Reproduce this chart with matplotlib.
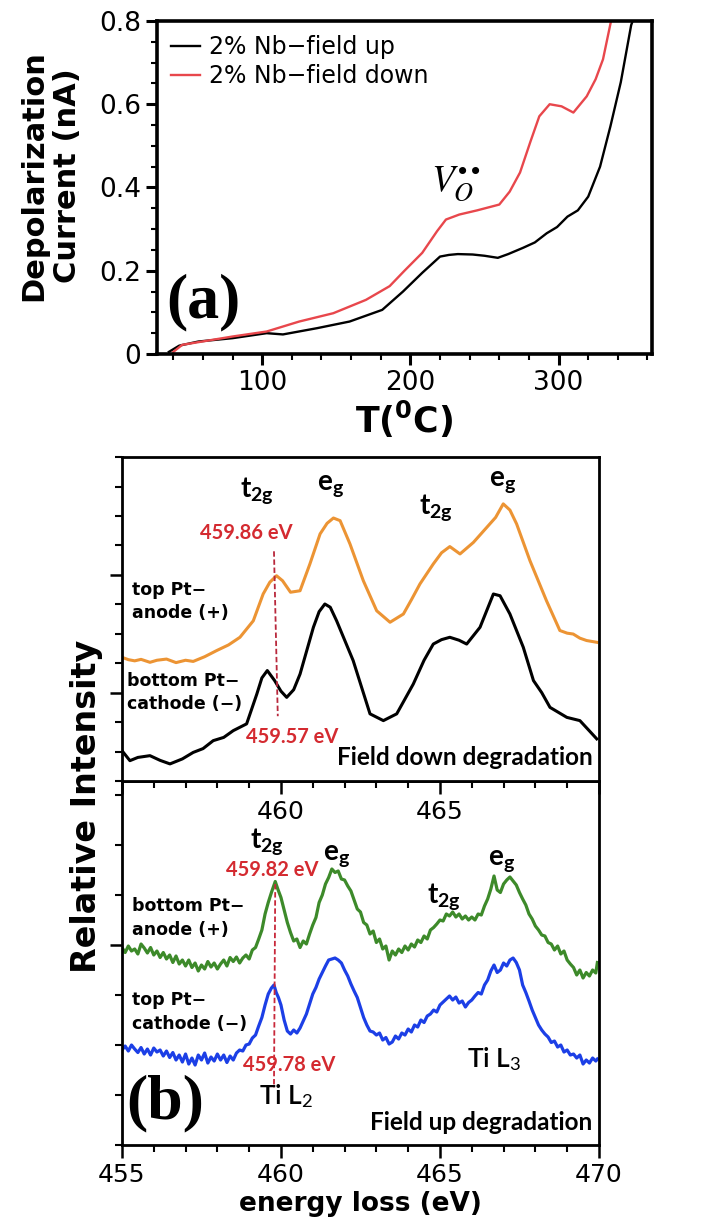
import matplotlib
matplotlib.use("Agg")
import matplotlib.pyplot as plt
from matplotlib.ticker import MultipleLocator, FixedLocator, NullFormatter, FuncFormatter

plt.rcParams["font.family"] = ["DejaVu Sans"]
plt.rcParams["mathtext.fontset"] = "custom"
plt.rcParams["mathtext.rm"] = "Lato"
plt.rcParams["mathtext.bf"] = "Lato:bold"
plt.rcParams["mathtext.it"] = "Lato:italic"

# ---------------- (a) thermally stimulated depolarization current ----------------
temp_field_up = [37, 44, 57, 80, 103, 114, 137, 159, 181, 195, 208, 220, 226, 232, 242,
                 250, 259, 266, 276, 284, 292, 299, 306, 313, 320, 328, 335, 342, 349, 352]
current_field_up = [0.005, 0.02, 0.03, 0.038, 0.05, 0.047, 0.062, 0.078, 0.106, 0.15,
                    0.195, 0.234, 0.238, 0.24, 0.239, 0.236, 0.231, 0.24, 0.255, 0.268,
                    0.29, 0.305, 0.33, 0.345, 0.378, 0.45, 0.547, 0.653, 0.79, 0.82]
temp_field_down = [40, 46, 80, 103, 125, 148, 170, 186, 196, 208, 218, 224, 233, 245,
                   260, 267, 274, 281, 287, 294, 302, 310, 319, 325, 330, 336]
current_field_down = [0.005, 0.022, 0.042, 0.054, 0.078, 0.098, 0.13, 0.163, 0.2, 0.243,
                      0.295, 0.323, 0.335, 0.345, 0.359, 0.39, 0.436, 0.51, 0.571, 0.60,
                      0.595, 0.58, 0.619, 0.66, 0.708, 0.81]
legend_labels = ["2% Nb\u2212field up", "2% Nb\u2212field down"]

# ---------------- (b) EELS Ti L2,3 edges ----------------
# field down degradation
energy_top_anode = [455.0, 455.2, 455.4, 455.6, 455.88, 456.1, 456.4, 456.7, 457.0, 457.24,
                    457.6, 457.98, 458.35, 458.71, 459.13, 459.44, 459.65, 459.86, 460.05,
                    460.3, 460.6, 460.91, 461.23, 461.45, 461.65, 461.86, 462.17, 462.59,
                    463.01, 463.43, 463.85, 464.1, 464.37, 464.79, 465.05, 465.31, 465.63,
                    466.05, 466.47, 466.75, 466.99, 467.2, 467.41, 467.83, 468.35, 468.77,
                    469.0, 469.19, 469.4, 469.61, 469.93]
intensity_top_anode = [1.20, 1.12, 1.08, 1.13, 1.03, 1.10, 1.14, 1.02, 1.1, 1.06,
                       1.22, 1.43, 1.62, 1.88, 2.44, 3.35, 3.75, 3.97, 3.80,
                       3.41, 3.46, 4.37, 5.39, 5.75, 5.93, 5.84, 5.05, 3.80,
                       2.78, 2.39, 2.67, 3.15, 3.69, 4.37, 4.75, 4.96, 4.71,
                       5.10, 5.61, 5.95, 6.41, 6.2, 5.73, 4.48, 3.12, 2.11,
                       2.02, 1.99, 1.85, 1.77, 1.71]
energy_bottom_cathode = [455.0, 455.25, 455.5, 455.88, 456.2, 456.51, 456.9, 457.24, 457.55,
                         457.87, 458.2, 458.5, 458.92, 459.24, 459.4, 459.57, 459.8, 460.0,
                         460.18, 460.4, 460.6, 461.02, 461.2, 461.38, 461.55, 461.75, 462.27,
                         462.8, 463.22, 463.64, 464.16, 464.5, 464.79, 465.05, 465.31, 465.6,
                         465.84, 466.26, 466.68, 466.89, 467.2, 467.62, 467.94, 468.2, 468.46,
                         468.99, 469.4, 469.7, 469.93]
intensity_bottom_cathode = [-1.97, -2.31, -2.2, -2.14, -2.3, -2.42, -2.25, -2.03, -1.9,
                            -1.63, -1.52, -1.29, -1.06, -0.05, 0.5, 0.75, 0.41, 0.05,
                            -0.16, 0.1, 0.63, 2.22, 2.75, 3.01, 2.9, 2.44, 1.09,
                            -0.72, -0.95, -0.72, 0.29, 1.1, 1.65, 1.8, 1.88, 1.78,
                            1.65, 2.22, 3.35, 3.29, 2.67, 1.54, 0.41, 0.0, -0.50,
                            -0.84, -0.95, -1.3, -1.57]

# field up degradation
energy_bottom_anode = [
    455.0, 455.1, 455.2, 455.3, 455.4, 455.5, 455.6, 455.7, 455.8, 455.9,
    456.0, 456.1, 456.2, 456.3, 456.4, 456.5, 456.6, 456.7, 456.8, 456.9,
    457.0, 457.1, 457.2, 457.3, 457.4, 457.5, 457.6, 457.7, 457.8, 457.9,
    458.0, 458.1, 458.2, 458.3, 458.4, 458.5, 458.6, 458.7, 458.8, 458.9,
    459.0, 459.1, 459.2, 459.3, 459.4, 459.5, 459.6, 459.7, 459.82, 459.9,
    460.0, 460.1, 460.2, 460.3, 460.4, 460.5, 460.6, 460.7, 460.8, 460.9,
    461.0, 461.1, 461.2, 461.3, 461.4, 461.5, 461.6, 461.7, 461.8, 461.9,
    462.0, 462.1, 462.2, 462.3, 462.4, 462.5, 462.6, 462.7, 462.8, 462.9,
    463.0, 463.1, 463.2, 463.3, 463.4, 463.5, 463.6, 463.7, 463.8, 463.9,
    464.0, 464.1, 464.2, 464.3, 464.4, 464.5, 464.6, 464.7, 464.8, 464.9,
    465.0, 465.1, 465.2, 465.3, 465.4, 465.5, 465.6, 465.7, 465.8, 465.9,
    466.0, 466.1, 466.2, 466.3, 466.4, 466.5, 466.6, 466.7, 466.8, 466.9,
    467.0, 467.1, 467.2, 467.3, 467.4, 467.5, 467.6, 467.7, 467.8, 467.9,
    468.0, 468.1, 468.2, 468.3, 468.4, 468.5, 468.6, 468.7, 468.8, 468.9,
    469.0, 469.1, 469.2, 469.3, 469.4, 469.5, 469.6, 469.7, 469.8, 469.9, 469.95]
intensity_bottom_anode = [
    -0.05, -0.15, -0.02, -0.12, -0.08, -0.18, 0.02, -0.06, -0.16, -0.05,
    -0.2, -0.12, -0.25, -0.15, -0.28, -0.2, -0.35, -0.22, -0.38, -0.3,
    -0.42, -0.3, -0.45, -0.36, -0.52, -0.4, -0.48, -0.33, -0.44, -0.36,
    -0.48, -0.38, -0.3, -0.42, -0.25, -0.33, -0.24, -0.36, -0.26, -0.2,
    -0.28, -0.1, -0.05, 0.12, 0.3, 0.62, 0.85, 1.05, 1.27, 1.12,
    0.95, 0.7, 0.45, 0.25, 0.08, 0.12, -0.05, 0.08, 0.02, 0.22,
    0.4, 0.55, 0.85, 1.0, 1.22, 1.35, 1.52, 1.45, 1.48, 1.32,
    1.3, 1.18, 1.08, 0.9, 0.72, 0.66, 0.45, 0.4, 0.22, 0.28,
    0.05, 0.12, -0.08, -0.02, -0.3, -0.12, -0.2, -0.08, -0.15, -0.02,
    -0.1, 0.02, -0.04, 0.1, 0.05, 0.18, 0.12, 0.3, 0.35, 0.42,
    0.5, 0.48, 0.62, 0.58, 0.66, 0.56, 0.62, 0.52, 0.58, 0.5,
    0.56, 0.5, 0.62, 0.6, 0.78, 0.92, 1.12, 1.38, 1.1, 1.05,
    1.22, 1.3, 1.36, 1.28, 1.2, 1.05, 0.92, 0.8, 0.62, 0.52,
    0.38, 0.3, 0.2, 0.18, 0.05, 0.02, -0.1, -0.02, -0.18, -0.12,
    -0.3, -0.38, -0.45, -0.6, -0.5, -0.66, -0.55, -0.62, -0.5, -0.56, -0.35]
energy_top_cathode = [
    455.0, 455.1, 455.2, 455.3, 455.4, 455.5, 455.6, 455.7, 455.8, 455.9,
    456.0, 456.1, 456.2, 456.3, 456.4, 456.5, 456.6, 456.7, 456.8, 456.9,
    457.0, 457.1, 457.2, 457.3, 457.4, 457.5, 457.6, 457.7, 457.8, 457.9,
    458.0, 458.1, 458.2, 458.3, 458.4, 458.5, 458.6, 458.7, 458.8, 458.9,
    459.0, 459.1, 459.2, 459.3, 459.4, 459.5, 459.6, 459.7, 459.78, 459.85,
    459.92, 460.0, 460.1, 460.2, 460.3, 460.4, 460.5, 460.6, 460.7, 460.8,
    460.9, 461.0, 461.1, 461.2, 461.3, 461.4, 461.5, 461.6, 461.7, 461.8,
    461.9, 462.0, 462.1, 462.2, 462.3, 462.4, 462.5, 462.6, 462.7, 462.8,
    462.9, 463.0, 463.1, 463.2, 463.3, 463.4, 463.5, 463.6, 463.7, 463.8,
    463.9, 464.0, 464.1, 464.2, 464.3, 464.4, 464.5, 464.6, 464.7, 464.8,
    464.9, 465.0, 465.1, 465.2, 465.3, 465.4, 465.5, 465.6, 465.7, 465.8,
    465.9, 466.0, 466.1, 466.2, 466.3, 466.4, 466.5, 466.6, 466.7, 466.8,
    466.9, 467.0, 467.1, 467.2, 467.3, 467.4, 467.5, 467.6, 467.7, 467.8,
    467.9, 468.0, 468.1, 468.2, 468.3, 468.4, 468.5, 468.6, 468.7, 468.8,
    468.9, 469.0, 469.1, 469.2, 469.3, 469.4, 469.5, 469.6, 469.7, 469.8,
    469.9, 469.95]
intensity_top_cathode = [
    -2.1, -2.02, -2.12, -2.0, -2.08, -2.15, -2.05, -2.18, -2.08, -2.2,
    -2.06, -2.14, -2.1, -2.22, -2.12, -2.25, -2.15, -2.3, -2.2, -2.34,
    -2.18, -2.38, -2.26, -2.4, -2.2, -2.3, -2.16, -2.36, -2.24, -2.32,
    -2.18, -2.3, -2.2, -2.35, -2.22, -2.3, -2.16, -2.1, -2.12, -2.0,
    -1.98, -1.86, -1.8, -1.62, -1.45, -1.2, -0.98, -0.86, -0.8, -0.95,
    -1.05, -1.2, -1.5, -1.72, -1.78, -1.7, -1.76, -1.66, -1.52, -1.38,
    -1.18, -0.98, -0.85, -0.68, -0.55, -0.42, -0.3, -0.28, -0.26, -0.3,
    -0.36, -0.5, -0.62, -0.78, -0.92, -1.05, -1.25, -1.45, -1.6, -1.72,
    -1.74, -1.8, -1.76, -1.9, -1.85, -1.98, -1.94, -1.82, -1.88, -1.76,
    -1.8, -1.68, -1.74, -1.6, -1.64, -1.5, -1.55, -1.42, -1.38, -1.3,
    -1.34, -1.2, -1.14, -1.08, -1.02, -1.1, -1.04, -1.16, -1.12, -1.24,
    -1.15, -1.1, -1.02, -0.95, -0.98, -0.8, -0.7, -0.52, -0.4, -0.55,
    -0.5, -0.36, -0.42, -0.3, -0.26, -0.35, -0.5, -0.8, -0.95, -1.12,
    -1.3, -1.45, -1.6, -1.7, -1.78, -1.84, -1.95, -1.92, -2.04, -2.0,
    -2.14, -2.1, -2.2, -2.18, -2.26, -2.2, -2.38, -2.3, -2.36, -2.26,
    -2.32, -2.28]

energy_ticks = [455, 460, 465, 470]

RED_TXT = "#d42a30"
LABEL_FONT = "Lato"

fig = plt.figure(figsize=(7.05, 12.27), dpi=100)

# ================= panel (a) =================
ax_a = fig.add_axes([0.2227, 0.7115, 0.702, 0.2714])
ax_a.plot(temp_field_up, current_field_up, color="black", lw=1.7, label=legend_labels[0])
ax_a.plot(temp_field_down, current_field_down, color="#e8474c", lw=1.7, label=legend_labels[1])
ax_a.set_xlim(29, 363)
ax_a.set_ylim(0, 0.8)
ax_a.xaxis.set_major_locator(FixedLocator([100, 200, 300]))
ax_a.xaxis.set_minor_locator(MultipleLocator(20))
ax_a.yaxis.set_major_locator(MultipleLocator(0.2))
ax_a.yaxis.set_minor_locator(MultipleLocator(0.05))
ax_a.yaxis.set_major_formatter(FuncFormatter(lambda v, p: "%g" % round(v, 2)))
ax_a.tick_params(which="major", direction="out", length=8, width=2.2, labelsize=19,
                 top=False, right=False)
ax_a.tick_params(which="minor", direction="out", length=4, width=1.5, top=False, right=False)
for s in ax_a.spines.values():
    s.set_linewidth(2.6)
leg = ax_a.legend(loc="upper left", frameon=False, fontsize=17, handlelength=1.2,
                  handletextpad=0.4, labelspacing=0.2, borderaxespad=0.3,
                  borderpad=0.3, bbox_to_anchor=(0.0, 1.0))
ax_a.set_xlabel(r"T($\mathbf{^{0}}$C)", fontsize=25, fontweight="bold", labelpad=2,
                math_fontfamily="dejavusans")
fig.text(0.072, 0.857, "Depolarization\nCurrent (nA)", rotation=90, ha="center",
         va="center", fontsize=22, fontweight="bold", linespacing=1.2)
ax_a.text(60, 0.125, "(a)", fontsize=46, fontweight="bold", family="Liberation Serif",
          ha="center", va="center")
ax_a.text(231, 0.41, r"$V_O^{\bullet\bullet}$", fontsize=27, ha="center", va="center",
          math_fontfamily="stix")

# ================= panel (b) =================
ax_t = fig.add_axes([0.173, 0.3635, 0.6766, 0.264])
ax_b = fig.add_axes([0.173, 0.0668, 0.6766, 0.2967])
ax_t.set_zorder(3)

ax_t.plot(energy_top_anode, intensity_top_anode, color="#ec9434", lw=2.2)
ax_t.plot(energy_bottom_cathode, intensity_bottom_cathode, color="black", lw=2.2)
ax_b.plot(energy_bottom_anode, intensity_bottom_anode, color="#3d8a2a", lw=2.3)
ax_b.plot(energy_top_cathode, intensity_top_cathode, color="#1c3fe6", lw=2.3)

for ax in (ax_t, ax_b):
    ax.set_xlim(455, 470)
    ax.xaxis.set_minor_locator(MultipleLocator(1))
    ax.xaxis.set_major_locator(FixedLocator(energy_ticks))
    ax.yaxis.set_minor_locator(MultipleLocator(1))
    ax.yaxis.set_major_formatter(NullFormatter())
    ax.tick_params(which="both", direction="out", top=False, right=False, labelsize=18)
    ax.tick_params(which="major", length=9, width=1.8)
    ax.tick_params(which="minor", length=5, width=1.5)
    for s in ax.spines.values():
        s.set_linewidth(2.0)

ax_t.set_ylim(-3, 8)
ax_t.yaxis.set_major_locator(FixedLocator([0, 4]))
ax_t.xaxis.set_major_formatter(FuncFormatter(lambda v, p: "%d" % v if v in (460, 465) else ""))
ax_t.tick_params(axis="x", which="major", pad=5)

ax_b.set_ylim(-4, 3.28)
ax_b.yaxis.set_major_locator(FixedLocator([0]))
ax_b.xaxis.set_major_formatter(FuncFormatter(lambda v, p: "%d" % v))
ax_b.tick_params(axis="x", which="major", pad=4)
ax_b.set_xlabel("energy loss (eV)", fontsize=19, fontweight="bold", labelpad=3)

fig.text(0.122, 0.343, "Relative Intensity", rotation=90, ha="center", va="center",
         fontsize=24, fontweight="bold")

# peak markers
ax_t.plot([459.78, 459.90], [4.8, -0.8], color="#b8283c", lw=1.3, ls=(0, (3, 1.5)))
ax_b.plot([459.82, 459.78], [1.22, -2.85], color="#c8283a", lw=1.3, ls=(0, (3, 1.5)))

lab_kw = dict(family=LABEL_FONT, fontweight="bold")
ax_t.text(458.9, 5.43, "459.86 eV", color=RED_TXT, fontsize=14.5, ha="center", va="center", **lab_kw)
ax_t.text(460.35, -1.49, "459.57 eV", color=RED_TXT, fontsize=14.5, ha="center", va="center", **lab_kw)
ax_b.text(459.72, 1.5, "459.82 eV", color=RED_TXT, fontsize=14.5, ha="center", va="center", **lab_kw)
ax_b.text(460.25, -2.4, "459.78 eV", color=RED_TXT, fontsize=14.5, ha="center", va="center", **lab_kw)

t2g = r"$\mathbf{t_{2g}}$"
eg = r"$\mathbf{e_{g}}$"
sym_kw = dict(fontsize=20, ha="center", va="center")
ax_t.text(459.25, 6.86, t2g, **sym_kw)
ax_t.text(461.57, 7.06, eg, **sym_kw)
ax_t.text(464.87, 6.3, t2g, **sym_kw)
ax_t.text(466.98, 7.2, eg, **sym_kw)
ax_b.text(459.56, 2.06, t2g, **sym_kw)
ax_b.text(461.76, 1.8, eg, **sym_kw)
ax_b.text(465.13, 0.98, t2g, **sym_kw)
ax_b.text(466.95, 1.7, eg, **sym_kw)

side_kw = dict(fontsize=12.5, fontweight="bold", ha="left", va="center", linespacing=1.4)
ax_t.text(455.31, 3.09, "top Pt\u2212\nanode (+)", **side_kw)
ax_t.text(455.16, 0.0, "bottom Pt\u2212\ncathode (\u2212)", **side_kw)
ax_b.text(455.31, 0.54, "bottom Pt\u2212\nanode (+)", **side_kw)
ax_b.text(455.31, -1.34, "top Pt\u2212\ncathode (\u2212)", **side_kw)

ax_t.text(469.8, -2.2, "Field down degradation", fontsize=17.5, ha="right", va="center", **lab_kw)
ax_b.text(469.8, -3.54, "Field up degradation", fontsize=17.5, ha="right", va="center", **lab_kw)

ax_b.text(460.16, -3.02, "Ti L$_2$", fontsize=19, ha="center", va="center",
          family=LABEL_FONT, fontweight="semibold")
ax_b.text(466.7, -2.28, "Ti L$_3$", fontsize=19, ha="center", va="center",
          family=LABEL_FONT, fontweight="semibold")
ax_b.text(456.35, -3.16, "(b)", fontsize=46, fontweight="bold", family="Liberation Serif",
          ha="center", va="center")

fig.savefig("out.png", dpi=100)
